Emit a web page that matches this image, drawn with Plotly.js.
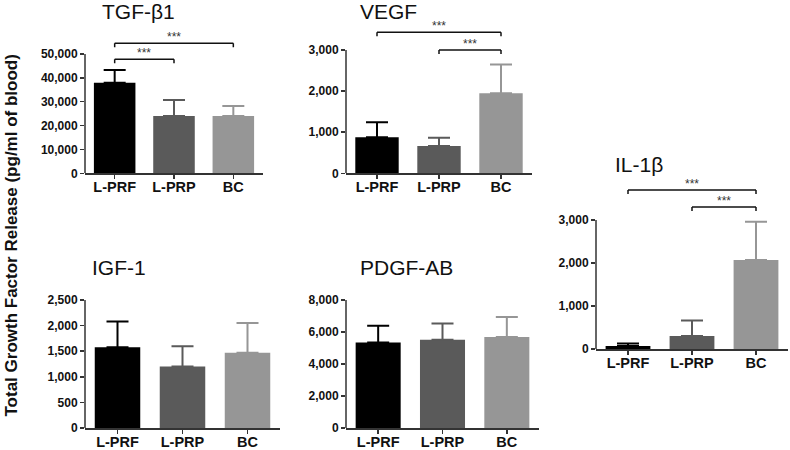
<!DOCTYPE html>
<html><head><meta charset="utf-8">
<script src="https://cdn.plot.ly/plotly-3.0.1.min.js"></script>
<style>html,body{margin:0;padding:0;background:#fff}#chart{width:790px;height:450px}</style>
</head><body><div id="chart"></div>
<script>
// ---- data ----
const categories = ['L-PRF', 'L-PRP', 'BC'];
const panelNames = ['TGF-β1', 'VEGF', 'IGF-1', 'PDGF-AB', 'IL-1β'];
const tgfMean = [38000, 24000, 24000];
const tgfSd = [5300, 6700, 4200];
const vegfMean = [875, 665, 1945];
const vegfSd = [365, 200, 705];
const igfMean = [1575, 1200, 1470];
const igfSd = [505, 395, 580];
const pdgfMean = [5350, 5520, 5690];
const pdgfSd = [1040, 1010, 1250];
const il1bMean = [70, 300, 2070];
const il1bSd = [60, 360, 890];
const tgfTicks = [0, 10000, 20000, 30000, 40000, 50000];
const vegfTicks = [0, 1000, 2000, 3000];
const igfTicks = [0, 500, 1000, 1500, 2000, 2500];
const pdgfTicks = [0, 2000, 4000, 6000, 8000];
const il1bTicks = [0, 1000, 2000, 3000];
// significance brackets: [group a index, group b index, bracket height]
const tgfSig = [[0, 1, 47800], [0, 2, 54500]];
const vegfSig = [[0, 2, 3430], [1, 2, 3000]];
const il1bSig = [[0, 2, 3700], [1, 2, 3300]];
const noSig = [];
const sigLabel = '***';
const yTitle = 'Total Growth Factor Release (pg/ml of blood)';

// ---- styles / layout (pixels) ----
const W = 790, H = 450;
const barColors = ['#000000', '#5a5a5a', '#969696'];
const axisColor = '#333333';
const FONT = '"Liberation Sans", Arial, Helvetica, sans-serif';

const panels = [
  {name: panelNames[0], mean: tgfMean, sd: tgfSd, ticks: tgfTicks, sig: tgfSig, xpx: [85, 263], y0: 173.3, yTop: 54, yPlotTop: 26, title: [100, 12]},
  {name: panelNames[1], mean: vegfMean, sd: vegfSd, ticks: vegfTicks, sig: vegfSig, xpx: [346, 532], y0: 173.3, yTop: 50, yPlotTop: 14, title: [358, 12]},
  {name: panelNames[2], mean: igfMean, sd: igfSd, ticks: igfTicks, sig: noSig, xpx: [85, 280], y0: 428, yTop: 300, yPlotTop: 300, title: [90, 267]},
  {name: panelNames[3], mean: pdgfMean, sd: pdgfSd, ticks: pdgfTicks, sig: noSig, xpx: [346, 539], y0: 428, yTop: 300, yPlotTop: 300, title: [358, 267]},
  {name: panelNames[4], mean: il1bMean, sd: il1bSd, ticks: il1bTicks, sig: il1bSig, xpx: [596, 788], y0: 349, yTop: 220, yPlotTop: 174, title: [613, 164]}
];

const traces = [];
const layout = {
  width: W, height: H,
  margin: {l: 0, r: 0, t: 0, b: 0},
  paper_bgcolor: '#ffffff', plot_bgcolor: 'rgba(0,0,0,0)',
  showlegend: false,
  barmode: 'overlay',
  bargap: 0.3,
  font: {family: FONT, color: '#111111'},
  shapes: [],
  annotations: []
};

panels.forEach((p, i) => {
  const n = i + 1;
  const xa = 'x' + (n === 1 ? '' : n), ya = 'y' + (n === 1 ? '' : n);
  const topTick = p.ticks[p.ticks.length - 1];
  const pxPerUnit = (p.y0 - p.yTop) / topTick;
  const rangeTop = (p.y0 - p.yPlotTop) / pxPerUnit;

  categories.forEach((c, g) => {
    traces.push({
      type: 'bar', x: [c], y: [p.mean[g]], xaxis: xa, yaxis: ya,
      marker: {color: barColors[g], line: {width: 0}},
      error_y: {type: 'data', symmetric: false, array: [p.sd[g]], arrayminus: [0],
                color: barColors[g], thickness: 2, width: 11},
      hoverinfo: 'skip'
    });
  });

  layout['xaxis' + (n === 1 ? '' : n)] = {
    domain: [p.xpx[0] / W, p.xpx[1] / W], anchor: ya,
    type: 'category', categoryorder: 'array', categoryarray: categories,
    range: [-0.5, 2.5], fixedrange: true,
    showline: true, linecolor: axisColor, linewidth: 1.5,
    ticks: 'outside', ticklen: 4, tickwidth: 1.5, tickcolor: axisColor,
    ticklabelstandoff: -4,
    showgrid: false, zeroline: false,
    tickfont: {family: FONT, size: 14.5, color: '#111111', weight: 'bold'}
  };
  layout['yaxis' + (n === 1 ? '' : n)] = {
    domain: [1 - p.y0 / H, 1 - p.yPlotTop / H], anchor: xa,
    range: [0, rangeTop], fixedrange: true,
    tickmode: 'array', tickvals: p.ticks, tickformat: ',d',
    showline: false, ticks: 'outside', ticklen: 4, tickwidth: 1.5, tickcolor: axisColor,
    showgrid: false, zeroline: false,
    tickfont: {family: FONT, size: 12, color: '#111111', weight: 'bold'}
  };

  // y axis line only up to the top tick
  layout.shapes.push({
    type: 'line', xref: xa + ' domain', yref: ya,
    x0: 0, x1: 0, y0: 0, y1: topTick,
    line: {color: axisColor, width: 1.5}
  });

  // significance brackets
  const drop = 4 / pxPerUnit;
  p.sig.forEach(([a, b, h]) => {
    const ln = {color: '#111111', width: 1.5};
    layout.shapes.push({type: 'line', xref: xa, yref: ya, x0: a, x1: b, y0: h, y1: h, line: ln});
    layout.shapes.push({type: 'line', xref: xa, yref: ya, x0: a, x1: a, y0: h, y1: h - drop, line: ln});
    layout.shapes.push({type: 'line', xref: xa, yref: ya, x0: b, x1: b, y0: h, y1: h - drop, line: ln});
    layout.annotations.push({
      xref: xa, yref: ya, x: (a + b) / 2, y: h, showarrow: false,
      xanchor: 'center', yanchor: 'bottom', yshift: -3,
      text: sigLabel, font: {family: FONT, size: 12, color: '#333333'}
    });
  });

  // panel title
  layout.annotations.push({
    xref: 'paper', yref: 'paper', x: p.title[0] / W, y: 1 - p.title[1] / H,
    xanchor: 'left', yanchor: 'middle', showarrow: false,
    text: p.name, font: {family: FONT, size: 21, color: '#111111'}
  });
});

// shared y axis title
layout.annotations.push({
  xref: 'paper', yref: 'paper', x: 10.5 / W, y: 1 - 236 / H,
  xanchor: 'center', yanchor: 'middle', showarrow: false, textangle: -90,
  text: '<b>' + yTitle + '</b>', font: {family: FONT, size: 17, color: '#111111'}
});

Plotly.newPlot('chart', traces, layout, {displayModeBar: false, staticPlot: true});
</script>
</body></html>
